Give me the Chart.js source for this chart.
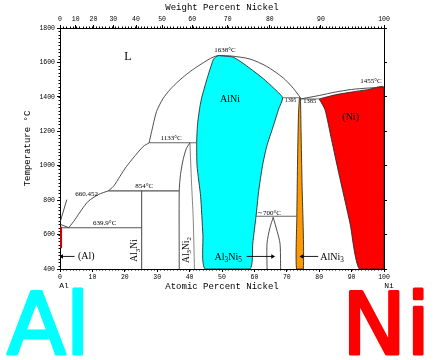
<!DOCTYPE html>
<html><head><meta charset="utf-8">
<script src="https://cdn.jsdelivr.net/npm/chart.js@4/dist/chart.umd.min.js"></script>
<style>html,body{margin:0;padding:0;background:#fff;overflow:hidden}canvas{display:block}</style>
</head><body>
<canvas id="c" width="437" height="360"></canvas>
<script>
// ---------- values (x = atomic % Ni, y = temperature °C) ----------
const atomicTicks = [0,10,20,30,40,50,60,70,80,90,100];
const weightTicks = [0,10,20,30,40,50,60,70,80,90,100];
const tempTicks = [400,600,800,1000,1200,1400,1600,1800];

// single-phase regions (filled)
const alNiPhase = [[49,1640],[53.5,1630],[57.6,1580],[62.8,1505],[66,1450],[68.7,1395],[67.5,1330],[65.8,1228],[63.8,1112],[62.5,1000],[61.3,850],[60.5,706],[59.5,550],[58.6,400],[44.8,400],[44.1,600],[43.4,822],[42.3,1000],[42.2,1150],[42.5,1250],[43.2,1345],[43.8,1400],[45.3,1500],[47.3,1616],[48.2,1634],[49,1640]];
const niPhase = [[80,1388],[85,1412],[90,1428],[95,1442],[100,1455],[100,400],[92.4,400],[89.5,667],[86,960],[83.8,1152],[81.8,1325],[80,1388]];
const alNi3Phase = [[73.9,1395],[74.2,1392],[74.4,1200],[74.7,900],[75.1,400],[73,400],[73.1,700],[73.3,1000],[73.6,1300],[73.9,1395]];
const alPhase = [[0.3,645],[0.3,520]];

// boundary lines
const liquidusAl = [[0,660.452],[2.7,639.9]];
const liquidusA = [[2.7,639.9],[4.6,686],[6.7,745],[8.7,793],[11.8,832],[14.9,854]];
const liquidusB = [[14.9,854],[16.5,880],[18.5,938],[20.5,995],[22.6,1045],[25.7,1112],[27.5,1133]];
const liquidusC = [[27.5,1133],[28.3,1200],[29.8,1315],[31.8,1390],[34,1443],[36.5,1490],[39,1530],[41.5,1565],[44.2,1598],[46.5,1624],[48,1636],[49,1640]];
const liquidusD = [[49,1640],[53,1637],[58.6,1620],[63.8,1577],[68.9,1510],[72,1450],[74.2,1395]];
const liquidusNi = [[74.3,1388],[80,1408],[85,1428],[90,1443],[95,1451],[100,1455]];
const iso1395 = [[68.7,1395],[74.2,1395]];
const iso1385 = [[74.3,1388],[80,1388]];
const iso1133 = [[27.5,1133],[42.2,1133]];
const iso854 = [[14.9,854],[36.8,854]];
const iso640 = [[0,639.9],[25.2,639.9]];
const iso700 = [[60.5,706],[73.1,706]];
const al3NiLine = [[25.2,400],[25.2,854]];
const al3Ni2Left = [[36.8,400],[36.8,854],[37.2,950],[38,1035],[39,1100],[40.1,1133]];
const al3Ni2Right = [[40.1,1133],[40.6,900],[41.1,700],[41.5,400]];
const al3Ni5Left = [[63.9,400],[63.9,550],[64.8,640],[65.8,700]];
const al3Ni5Right = [[65.8,700],[67,620],[67.9,550],[68.1,400]];
const leader660 = [[2.1,803],[0,670]];
const arrowAl = [[4.5,473],[0.5,473]];
const arrowAl3Ni5 = [[57.6,473],[65.6,473]];
const arrowAlNi3 = [[79.7,473],[74.7,473]];

// text labels anchored in data units
const labels = [
  {parts:[['L']], at:[21,1633], size:12},
  {parts:[['1638°C']], at:[50.9,1674], size:7},
  {parts:[['AlNi']], at:[52.5,1383], size:10},
  {parts:[['1395']], at:[71.2,1381], size:5.5},
  {parts:[['1385']], at:[77.1,1376], size:6.5},
  {parts:[['1455°C']], at:[96,1490], size:7},
  {parts:[['(Ni)']], at:[89.7,1278], size:10},
  {parts:[['1133°C']], at:[34.3,1161], size:7},
  {parts:[['854°C']], at:[26,880], size:7},
  {parts:[['639.9°C']], at:[13.8,667], size:7},
  {parts:[['660.452']], at:[8.2,834], size:7},
  {parts:[['(Al)']], at:[8.1,475], size:10},
  {parts:[['Al'],['3',1],['Ni']], at:[23.1,507], size:9.5, rot:true},
  {parts:[['Al'],['3',1],['Ni'],['2',1]], at:[38.9,510], size:9.5, rot:true},
  {parts:[['Al'],['3',1],['Ni'],['5',1]], at:[51.9,469], size:10},
  {parts:[['AlNi'],['3',1]], at:[84,469], size:10},
  {parts:[['∼700°C']], at:[64.5,722], size:7}
];

const wtToAt = w => { const n = w/58.693, a = (100-w)/26.982; return 100*n/(n+a); };
const pts = arr => arr.map(([x,y]) => ({x, y}));

const lineDs = (arr, opts={}) => Object.assign({
  data: pts(arr), showLine: true, pointRadius: 0, borderColor: '#3a3a3a',
  borderWidth: 0.9, fill: false, tension: 0.25, order: 1
}, opts);
const fillDs = (arr, color) => ({
  data: pts(arr), showLine: true, pointRadius: 0, borderColor: '#2a2a2a',
  borderWidth: 0.9, backgroundColor: color, fill: 'shape', tension: 0.2, order: 3
});
const arrowDs = (arr, rot) => ({
  data: pts(arr), showLine: true, borderColor: '#000', borderWidth: 0.9,
  pointRadius: [0, 2.6], pointStyle: 'triangle', rotation: rot,
  pointBackgroundColor: '#000', pointBorderColor: '#000', pointBorderWidth: 0, order: 0
});

const datasets = [
  fillDs(alNiPhase, '#00ffff'),
  fillDs(niPhase, '#ff0000'),
  fillDs(alNi3Phase, '#ff9900'),
  lineDs(alPhase, {borderColor: '#d00000', borderWidth: 2.2, tension: 0}),
  lineDs(liquidusAl, {tension: 0}),
  lineDs(liquidusA), lineDs(liquidusB), lineDs(liquidusC), lineDs(liquidusD), lineDs(liquidusNi),
  lineDs(iso1395, {tension:0, borderColor:'#666'}),
  lineDs(iso1385, {tension:0, borderColor:'#666'}),
  lineDs(iso1133, {tension:0, borderColor:'#666', borderWidth:1.1}),
  lineDs(iso854, {tension:0, borderColor:'#555', borderWidth:1.1}),
  lineDs(iso640, {tension:0, borderColor:'#555', borderWidth:1.1}),
  lineDs(iso700, {tension:0, borderColor:'#666', borderWidth:1.1}),
  lineDs(al3NiLine, {tension:0, borderColor:'#555', borderWidth:1.1}),
  lineDs(al3Ni2Left), lineDs(al3Ni2Right, {borderColor:'#777'}),
  lineDs(al3Ni5Left), lineDs(al3Ni5Right),
  lineDs(leader660, {tension:0}),
  arrowDs(arrowAl, -90), arrowDs(arrowAl3Ni5, 90), arrowDs(arrowAlNi3, -90)
];

const TICK_FONT = {family: '"Liberation Mono", monospace', size: 6.5};
const TITLE_FONT = {family: '"Liberation Mono", monospace', size: 9};
const setSize = (prop, v) => s => { s[prop] = v; };

const decor = {
  id: 'decor',
  afterDraw(chart) {
    const {ctx, chartArea: a} = chart;
    const x = chart.scales.x, y = chart.scales.y;
    ctx.save();
    // minor ticks
    ctx.strokeStyle = '#000'; ctx.lineWidth = 1;
    ctx.beginPath();
    for (let v = 0; v <= 100; v += 1) {
      const px = Math.round(x.getPixelForValue(v)) + 0.5;
      ctx.moveTo(px, a.bottom); ctx.lineTo(px, a.bottom + 1.5);
      ctx.moveTo(px, a.top); ctx.lineTo(px, a.top - 1.5);
    }
    for (let t = 400; t <= 1800; t += 20) {
      const py = Math.round(y.getPixelForValue(t)) + 0.5;
      ctx.moveTo(a.left, py); ctx.lineTo(a.left - 1.5, py);
    }
    ctx.stroke();
    // annotations
    ctx.fillStyle = '#000';
    ctx.textBaseline = 'middle';
    for (const L of labels) {
      const px = x.getPixelForValue(L.at[0]), py = y.getPixelForValue(L.at[1]);
      const fMain = `${L.size}px "Liberation Serif", serif`;
      const fSub = `${(L.size*0.72).toFixed(2)}px "Liberation Serif", serif`;
      let w = 0;
      for (const [t, sub] of L.parts) { ctx.font = sub ? fSub : fMain; w += ctx.measureText(t).width; }
      ctx.save();
      ctx.translate(px, py);
      if (L.rot) ctx.rotate(-Math.PI/2);
      let cx = -w/2;
      ctx.textAlign = 'left';
      for (const [t, sub] of L.parts) {
        ctx.font = sub ? fSub : fMain;
        ctx.fillText(t, cx, sub ? L.size*0.32 : 0);
        cx += ctx.measureText(t).width;
      }
      ctx.restore();
    }
    // element symbols under the axis ends
    ctx.font = '8px "Liberation Mono", monospace';
    ctx.textAlign = 'center';
    ctx.fillText('Al', x.getPixelForValue(0) + 4, 286);
    ctx.fillText('Ni', x.getPixelForValue(100) + 5, 286);
    // big element names
    ctx.textBaseline = 'alphabetic';
    ctx.textAlign = 'left';
    ctx.font = '86px "DejaVu Sans", "Liberation Sans", sans-serif';
    ctx.lineJoin = 'round'; ctx.lineCap = 'round'; ctx.lineWidth = 3;
    ctx.fillStyle = '#00ffff'; ctx.strokeStyle = '#00ffff';
    ctx.fillText('Al', 7, 354); ctx.strokeText('Al', 7, 354);
    ctx.fillStyle = '#ff0000'; ctx.strokeStyle = '#ff0000';
    ctx.fillText('Ni', 342, 354); ctx.strokeText('Ni', 342, 354);
    ctx.restore();
  }
};

new Chart(document.getElementById('c'), {
  type: 'scatter',
  data: { datasets },
  options: {
    responsive: false, devicePixelRatio: 1, animation: false,
    layout: { padding: { left: 0, top: 0, right: 49, bottom: 67 } },
    plugins: { legend: {display: false}, tooltip: {enabled: false}, title: {display: false} },
    scales: {
      x: {
        type: 'linear', position: 'bottom', min: 0, max: 100,
        afterBuildTicks: s => { s.ticks = atomicTicks.map(v => ({value: v})); },
        ticks: { font: TICK_FONT, color: '#000', padding: 1, maxRotation: 0, autoSkip: false,
                 callback: v => String(v) },
        grid: { drawOnChartArea: false, tickLength: 3, color: '#000' },
        border: { display: true, color: '#000', width: 1 },
        title: { display: true, text: 'Atomic Percent Nickel', font: TITLE_FONT, color: '#000', padding: {top: 0, bottom: 1} },
        afterFit: setSize('height', 24)
      },
      x2: {
        type: 'linear', position: 'top', min: 0, max: 100,
        afterBuildTicks: s => { s.ticks = weightTicks.map(w => ({value: wtToAt(w)})); },
        ticks: { font: TICK_FONT, color: '#000', padding: 2, maxRotation: 0, autoSkip: false,
                 callback: (v, i) => String(weightTicks[i]) },
        grid: { drawOnChartArea: false, tickLength: 3, color: '#000' },
        border: { display: true, color: '#000', width: 1 },
        title: { display: true, text: 'Weight Percent Nickel', font: TITLE_FONT, color: '#000', padding: {top: 2, bottom: 0} },
        afterFit: setSize('height', 28)
      },
      y: {
        type: 'linear', position: 'left', min: 400, max: 1800,
        afterBuildTicks: s => { s.ticks = tempTicks.map(v => ({value: v})); },
        ticks: { font: TICK_FONT, color: '#000', padding: 2, autoSkip: false,
                 callback: v => String(v) },
        grid: { drawOnChartArea: false, tickLength: 3, color: '#000' },
        border: { display: true, color: '#000', width: 1 },
        title: { display: true, text: 'Temperature °C', font: TITLE_FONT, color: '#000', padding: {top: 22, bottom: 0} },
        afterFit: setSize('width', 60)
      },
      y2: {
        type: 'linear', position: 'right', min: 400, max: 1800,
        afterBuildTicks: s => { s.ticks = tempTicks.map(v => ({value: v})); },
        ticks: { display: false },
        grid: { drawOnChartArea: false, tickLength: 3, color: '#000' },
        border: { display: true, color: '#000', width: 1 },
        afterFit: setSize('width', 4)
      }
    }
  },
  plugins: [decor]
});
</script>
</body></html>
